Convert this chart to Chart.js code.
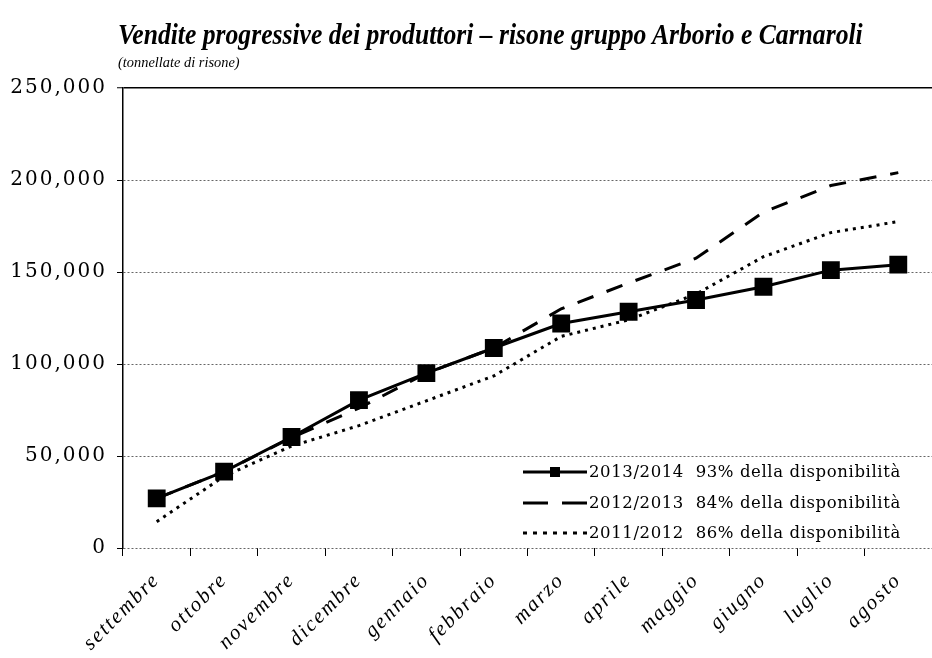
<!DOCTYPE html>
<html><head><meta charset="utf-8">
<script src="https://cdn.jsdelivr.net/npm/chart.js@4/dist/chart.umd.min.js"></script>
<style>
html,body{margin:0;padding:0;background:#fff;}
#wrap{position:relative;width:932px;height:658px;overflow:hidden;background:#fff;}
#title{position:absolute;left:118px;top:18px;font:italic bold 29px "Liberation Serif";white-space:nowrap;color:#000;transform:scaleX(0.884);transform-origin:0 0;}
#sub{position:absolute;left:118px;top:54px;font:italic 15px "Liberation Serif";white-space:nowrap;color:#000;transform:scaleX(0.96);transform-origin:0 0;}
canvas{position:absolute;left:0;top:0;}
</style></head>
<body>
<div id="wrap">
<canvas id="c" width="932" height="658"></canvas>
<div id="title">Vendite progressive dei produttori – risone gruppo Arborio e Carnaroli</div>
<div id="sub">(tonnellate di risone)</div>
</div>
<script>
const months = ['settembre','ottobre','novembre','dicembre','gennaio','febbraio','marzo','aprile','maggio','giugno','luglio','agosto'];
const seasons = ['2013/2014','2012/2013','2011/2012'];
const shares = ['93%','84%','86%'];
const s2013_2014 = [27000, 41500, 60300, 80400, 95000, 108700, 122000, 128400, 134800, 142000, 151000, 154000];
const s2012_2013 = [27000, 41500, 60000, 76000, 95000, 108700, 130000, 144000, 157500, 182500, 197000, 204000];
const s2011_2012 = [14300, 39000, 55400, 66500, 80000, 93500, 115000, 124000, 138000, 158300, 171400, 177400];
const yTickValues = [0, 50000, 100000, 150000, 200000, 250000];
const yTickLabels = ['0', '50,000', '100,000', '150,000', '200,000', '250,000'];

const legendDash = [[], [25, 14], [4, 6]];

const spacingPlugin = {
  id: 'spacing',
  beforeUpdate(chart){ chart.ctx.letterSpacing = '2px'; },
  beforeDraw(chart){ chart.ctx.letterSpacing = '2px'; }
};

const legendPlugin = {
  id: 'customLegend',
  afterDatasetsDraw(chart){
    const ctx = chart.ctx;
    const x0 = 523, x1 = 587, tx = 589, rows = [472, 503, 533];
    chart.data.datasets.forEach((ds, i) => {
      const y = rows[i];
      ctx.save();
      ctx.strokeStyle = '#000';
      ctx.lineWidth = 3;
      ctx.setLineDash(legendDash[i]);
      ctx.beginPath(); ctx.moveTo(x0, y); ctx.lineTo(x1, y); ctx.stroke();
      if (i === 0) {
        ctx.fillStyle = '#000';
        ctx.fillRect((x0 + x1) / 2 - 5, y - 5, 10, 10);
      }
      ctx.setLineDash([]);
      ctx.letterSpacing = '0.6px';
      ctx.font = '16.5px "DejaVu Serif"';
      ctx.fillStyle = '#000';
      ctx.textBaseline = 'middle';
      ctx.textAlign = 'left';
      ctx.fillText(seasons[i] + '  ' + shares[i] + ' della disponibilità', tx, y + 1);
      ctx.restore();
    });
  }
};

new Chart(document.getElementById('c'), {
  type: 'line',
  data: {
    labels: months,
    datasets: [
      { label: seasons[0], data: s2013_2014, borderColor: '#000', backgroundColor: '#000', borderWidth: 3,
        pointStyle: 'rect', pointRadius: 10.5, pointHoverRadius: 10.5, tension: 0, order: 0 },
      { label: seasons[1], data: s2012_2013, borderColor: '#000', borderWidth: 3, borderDash: [17, 14],
        pointRadius: 0, tension: 0, order: 1 },
      { label: seasons[2], data: s2011_2012, borderColor: '#000', borderWidth: 3, borderDash: [3, 5],
        pointRadius: 0, tension: 0, order: 2 }
    ]
  },
  options: {
    responsive: false,
    animation: false,
    devicePixelRatio: 1,
    layout: { autoPadding: false, padding: { top: 88, right: -4, left: 0, bottom: 0 } },
    plugins: { legend: { display: false }, tooltip: { enabled: false }, title: { display: false } },
    scales: {
      x: {
        offset: true,
        grid: { offset: true, drawOnChartArea: false, drawTicks: true, tickLength: 8, color: '#000', tickColor: '#000', tickWidth: 1 },
        border: { display: false },
        ticks: { maxRotation: 45, minRotation: 45, autoSkip: false, padding: 12, color: '#000',
                 font: { family: 'Liberation Serif', style: 'italic', size: 21 } },
        afterFit: s => { s.height = 110; s.paddingLeft = 0; s.paddingRight = 0; }
      },
      y: {
        min: 0, max: 250000,
        afterBuildTicks: s => { s.ticks = yTickValues.map(v => ({ value: v })); },
        grid: {
          color: c => (c.tick && c.tick.value === 250000) ? '#000' : '#666',
          lineWidth: c => (c.tick && c.tick.value === 250000) ? 1.5 : 1,
          tickColor: '#000', tickLength: 6, tickWidth: 1
        },
        border: { display: true, color: '#000', width: 1.5,
                  dash: c => (c.tick && c.tick.value === 250000) ? [] : [2, 2] },
        ticks: { padding: 10, color: '#000', font: { family: 'DejaVu Serif', size: 20 },
                 callback: (v) => yTickLabels[yTickValues.indexOf(v)] },
        afterFit: s => { s.width = 123; }
      }
    }
  },
  plugins: [spacingPlugin, legendPlugin]
});
</script>
</body></html>
